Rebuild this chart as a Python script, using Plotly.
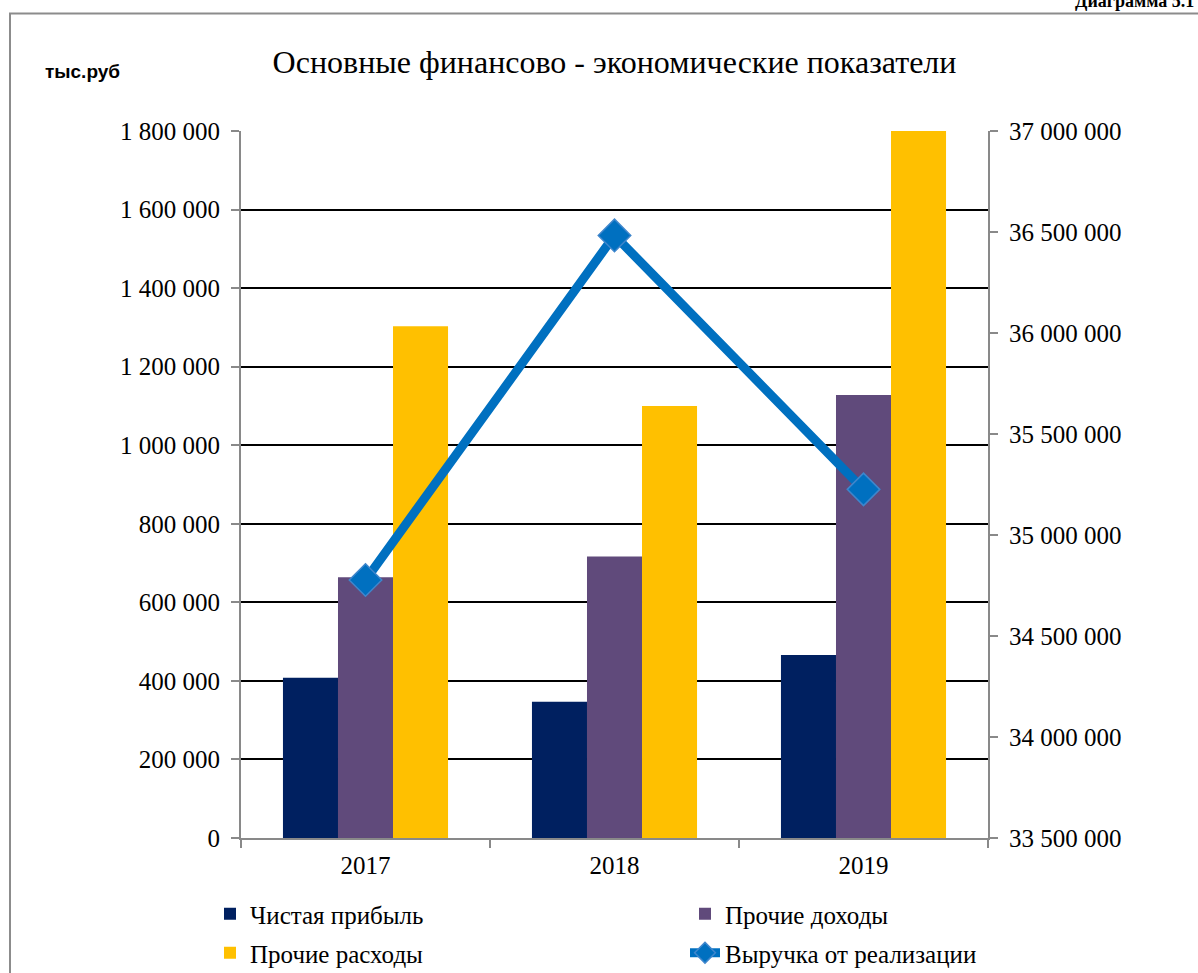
import plotly.graph_objects as go

years = ["2017", "2018", "2019"]
net_profit = [408000, 347000, 466000]
other_income = [664000, 717000, 1128000]
other_expenses = [1303000, 1100000, 1800000]
revenue = [34777000, 36483000, 35226000]

left_ticks = [0, 200000, 400000, 600000, 800000, 1000000, 1200000, 1400000, 1600000, 1800000]
right_ticks = [33500000, 34000000, 34500000, 35000000, 35500000, 36000000, 36500000, 37000000]

W, H = 1198, 973
L, R, T, B = 241, 988, 131, 841

def px_x(p):
    return (p - L) / (R - L)

def px_y(p):
    return (B - p) / (B - T)

serif = "Liberation Serif, Times New Roman, serif"

fig = go.Figure()
fig.add_trace(go.Bar(x=years, y=net_profit, name="Чистая прибыль", legend="legend",
                     marker=dict(color="#002060", line=dict(width=0))))
fig.add_trace(go.Bar(x=years, y=other_income, name="Прочие доходы", legend="legend2",
                     marker=dict(color="#604A7B", line=dict(width=0))))
fig.add_trace(go.Bar(x=years, y=other_expenses, name="Прочие расходы", legend="legend3",
                     marker=dict(color="#FFC000", line=dict(width=0))))
fig.add_trace(go.Scatter(x=years, y=revenue, name="Выручка от реализации", yaxis="y2", legend="legend4",
                         mode="lines+markers",
                         line=dict(color="#0070C0", width=9),
                         marker=dict(symbol="diamond", size=25, color="#0070C0",
                                     line=dict(color="#3F86CC", width=1.5))))

legend_common = dict(orientation="h", xanchor="left", yanchor="middle",
                     xref="paper", yref="container",
                     font=dict(family=serif, size=25, color="black"),
                     bgcolor="rgba(0,0,0,0)", borderwidth=0)

fig.update_layout(
    width=W, height=H,
    margin=dict(l=L, r=W - R, t=T, b=H - B),
    paper_bgcolor="white", plot_bgcolor="white",
    separators=", ",
    barmode="group", bargap=0.337, bargroupgap=0,
    font=dict(family=serif, size=25, color="black"),
    title=dict(text="Основные финансово - экономические показатели",
               x=0.5, xref="paper", xanchor="center",
               y=1 - 62 / H, yref="container", yanchor="middle",
               font=dict(family=serif, size=32, color="black")),
    xaxis=dict(type="category", showgrid=False, showline=True, linecolor="#898989", linewidth=2,
               ticks="outside", tickson="boundaries", ticklen=8, tickcolor="#898989", tickwidth=2,
               tickfont=dict(family=serif, size=25, color="black"), ticklabelstandoff=4),
    yaxis=dict(range=[0, 1800000], tickvals=left_ticks, tickformat=",d",
               showgrid=True, gridcolor="black", gridwidth=1.5, zeroline=False,
               showline=True, linecolor="#898989", linewidth=2,
               ticks="outside", ticklen=8, tickcolor="#898989", tickwidth=2,
               tickfont=dict(family=serif, size=25, color="black"), ticklabelstandoff=6),
    yaxis2=dict(range=[33500000, 37000000], tickvals=right_ticks, tickformat=",d",
                overlaying="y", side="right", showgrid=False, zeroline=False,
                showline=True, linecolor="#898989", linewidth=2,
                ticks="outside", ticklen=8, tickcolor="#898989", tickwidth=2,
                tickfont=dict(family=serif, size=25, color="black"), ticklabelstandoff=6),
    legend=dict(x=px_x(210), y=1 - 914 / H, **legend_common),
    legend2=dict(x=px_x(685), y=1 - 914 / H, **legend_common),
    legend3=dict(x=px_x(210), y=1 - 953 / H, **legend_common),
    legend4=dict(x=px_x(685), y=1 - 953 / H, **legend_common),
    showlegend=True,
)

fig.add_shape(type="rect", xref="paper", yref="paper",
              x0=px_x(10), x1=px_x(1215), y0=px_y(990), y1=px_y(13),
              line=dict(color="#8C8C8C", width=2), fillcolor="rgba(0,0,0,0)", layer="below")

fig.add_annotation(text="<b>тыс.руб</b>", xref="paper", yref="paper",
                   x=px_x(43), xanchor="left", y=px_y(71), yanchor="middle",
                   showarrow=False, font=dict(family="Liberation Sans, Arial, sans-serif", size=19, color="black"))
fig.add_annotation(text="<b>Диаграмма 5.1</b>", xref="paper", yref="paper",
                   x=px_x(1196), xanchor="right", y=px_y(13), yanchor="bottom",
                   showarrow=False, font=dict(family=serif, size=18, color="black"))

fig.write_html("out.html", config={"displayModeBar": False},
               post_script="document.body.style.margin='0';document.body.style.overflow='hidden';")
